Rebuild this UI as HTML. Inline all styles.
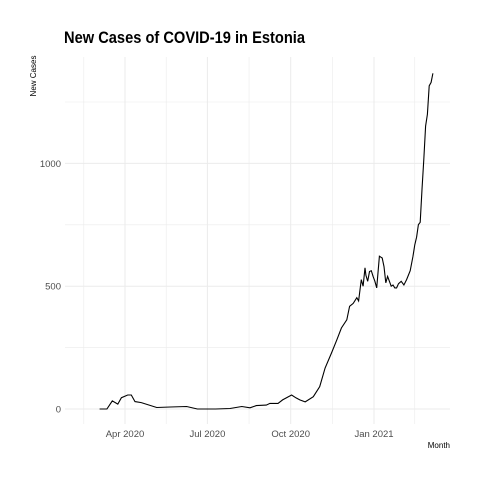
<!DOCTYPE html>
<html><head><meta charset="utf-8"><style>
html,body{margin:0;padding:0;background:#fff;}
svg{display:block;font-family:"Liberation Sans",sans-serif;}
</style></head><body>
<svg id="chart" width="480" height="480" viewBox="0 0 480 480" xmlns="http://www.w3.org/2000/svg">
<text x="64" y="43" font-size="17" font-weight="bold" fill="#000" textLength="241" lengthAdjust="spacingAndGlyphs">New Cases of COVID-19 in Estonia</text>
<g id="grid"></g>
<g id="ticks"></g>
<path id="line" fill="none" stroke="#000" stroke-width="1.1"/>
<text transform="translate(36,76) rotate(-90)" text-anchor="middle" font-size="8" fill="#000">New Cases</text>
<text x="450" y="448" text-anchor="end" font-size="8" fill="#000">Month</text>
</svg>
<script>
// days relative to 2020-04-01
const days = [-28,-20,-14,-8,-4,3,7,11,18,35,50,68,80,100,116,129,138,145,156,160,169,174,184,189,193,199,208,215,221,228,234,239,245,248,252,256,258,261,263,265,266,268,270,272,274,276,278,281,284,286,288,290,292,294,296,298,300,302,305,308,311,315,318,320,322,324,326,328,330,332,334,336,338,340];
const cases = [0,0,33,20,46,57,57,30,26,6,8,10,0,0,2,10,5,14,16,23,23,37,57,45,37,29,50,91,167,228,282,330,363,418,430,453,440,527,500,575,545,520,560,563,540,520,493,622,615,580,514,540,520,500,505,493,493,510,520,505,527,563,620,669,700,751,760,894,1016,1152,1200,1316,1330,1367];
const yTicks = [0,500,1000];
const xTickDays = [0,91,183,275];
const xTickLabels = ["Apr 2020","Jul 2020","Oct 2020","Jan 2021"];
const X = d => 125 + d*0.9055;
const Y = v => 409 - v*0.2456;
const NS="http://www.w3.org/2000/svg";
const grid=document.getElementById('grid'), ticks=document.getElementById('ticks');
function ln(x1,y1,x2,y2,w,name){const l=document.createElementNS(NS,'line');l.setAttribute('x1',x1);l.setAttribute('y1',y1);l.setAttribute('x2',x2);l.setAttribute('y2',y2);l.setAttribute('stroke','#ebebeb');l.setAttribute('stroke-width',w);


grid.appendChild(l);}
for(let v=250;v<=1250;v+=500) ln(65,Y(v),450,Y(v),0.6,'minor-gridline-y');
yTicks.forEach(v=>ln(65,Y(v),450,Y(v),1,'major-gridline-y'));
[-45.5,45.5,137,229,320].forEach(d=>ln(X(d),57,X(d),424,0.6,'minor-gridline-x'));
xTickDays.forEach(d=>ln(X(d),57,X(d),424,1,'major-gridline-x'));
yTicks.forEach(v=>{const t=document.createElementNS(NS,'text');t.setAttribute('x',61);t.setAttribute('y',Y(v)+3.5);t.setAttribute('text-anchor','end');t.setAttribute('font-size','9.5');t.setAttribute('fill','#4d4d4d');t.textContent=v;


ticks.appendChild(t);});
xTickDays.forEach((d,i)=>{const t=document.createElementNS(NS,'text');t.setAttribute('x',X(d));t.setAttribute('y',437);t.setAttribute('text-anchor','middle');t.setAttribute('font-size','9.5');t.setAttribute('fill','#4d4d4d');t.textContent=xTickLabels[i];


ticks.appendChild(t);});
document.getElementById('line').setAttribute('d',days.map((d,i)=>(i?'L':'M')+X(d).toFixed(1)+','+Y(cases[i]).toFixed(1)).join(''));
</script>
</body></html>
